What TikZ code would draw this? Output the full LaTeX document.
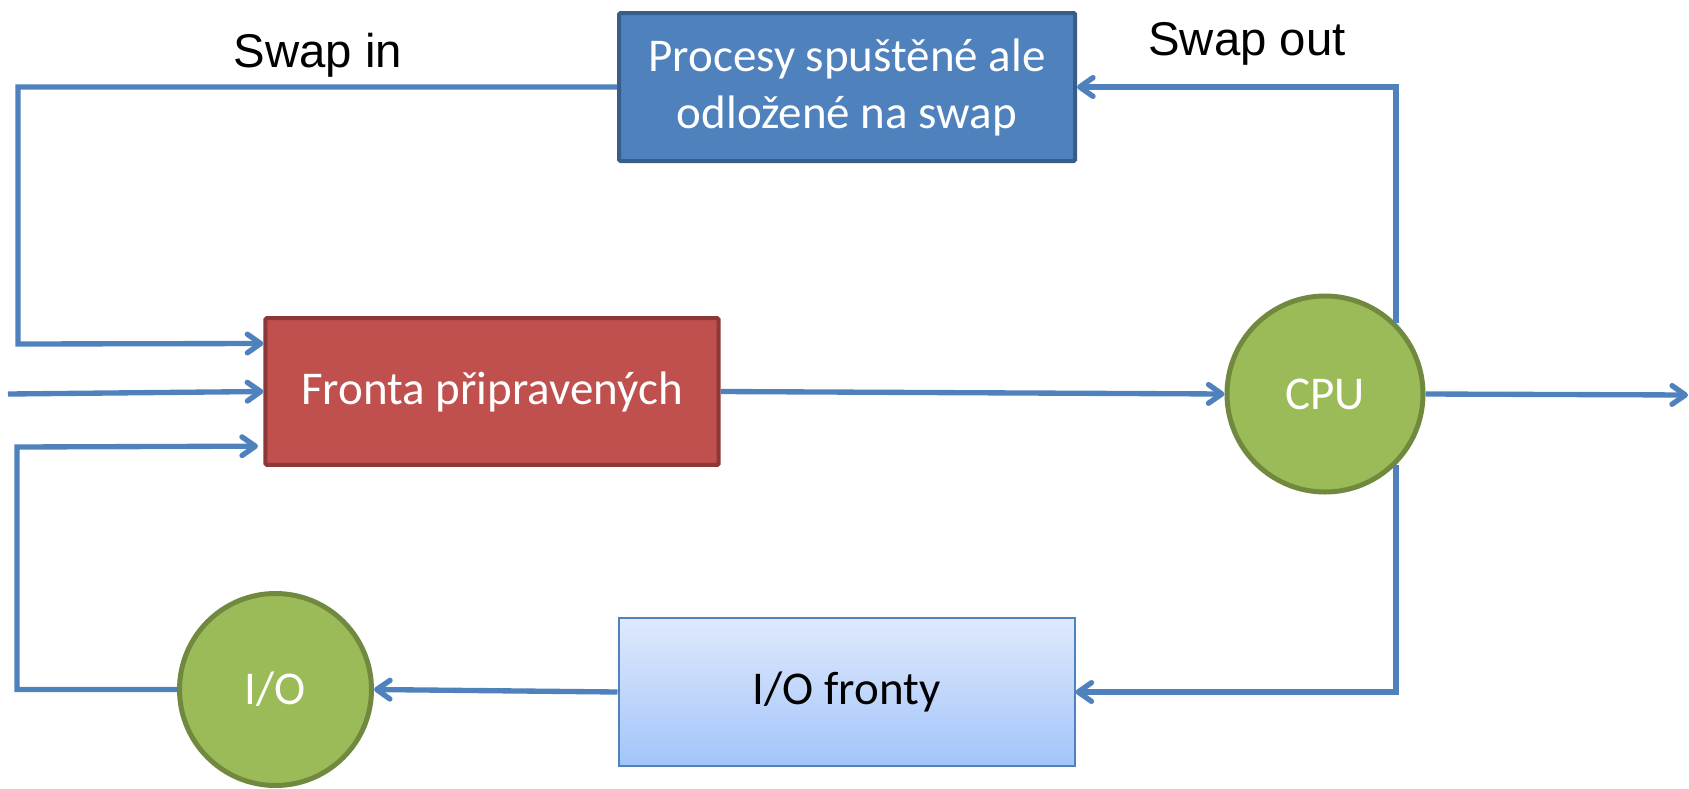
\documentclass[tikz,border=0pt]{standalone}
\usepackage{fontspec}
\setmainfont{Carlito}
\newfontfamily\labelfont{Liberation Sans}
\usetikzlibrary{arrows.meta}

\definecolor{lineblue}{RGB}{79,129,189}
\definecolor{swapborder}{RGB}{56,93,138}
\definecolor{readyfill}{RGB}{192,80,77}
\definecolor{readyborder}{RGB}{140,56,54}
\definecolor{cpufill}{RGB}{155,187,89}
\definecolor{cpuborder}{RGB}{113,137,63}
\definecolor{iotop}{RGB}{223,233,252}
\definecolor{iobottom}{RGB}{163,196,250}

\tikzset{every picture/.style={line width=0.75pt}}
\tikzset{
  flow/.style={draw=lineblue, line width=4pt, -{Straight Barb[length=10pt,width=14pt,round]}},
  boxtext/.style={font=\fontsize{35.25}{42.75}\selectfont, align=center, inner sep=0pt},
  swapbox/.style={boxtext, draw=swapborder, fill=lineblue, text=white, line width=3pt,
    rounded corners=1pt, minimum width=342pt, minimum height=111pt},
  readybox/.style={boxtext, draw=readyborder, fill=readyfill, text=white, line width=3pt,
    rounded corners=1pt, minimum width=340pt, minimum height=110pt},
  iobox/.style={boxtext, draw=lineblue, line width=1.5pt, top color=iotop, bottom color=iobottom,
    minimum width=342pt, minimum height=111pt},
  unit/.style={boxtext, circle, draw=cpuborder, fill=cpufill, text=white, line width=3.75pt},
  swaplabel/.style={font=\labelfont\fontsize{35.5}{40}\selectfont, anchor=base, inner sep=0pt}
}

\begin{document}
\begin{tikzpicture}[x=0.75pt,y=0.75pt,yscale=-1,xscale=1]
\useasboundingbox (0,0) rectangle (1689,789);

%Shapes: queues and units
\node (procs) [swapbox] at (847,87) {Procesy spuštěné ale\\odložené na swap};
\node (fronta) [readybox] at (492,391.5) {Fronta připravených};
\node (cpu) [unit, minimum size=147pt] at (1325,394) {CPU};
\node (iofr) [iobox] at (846.5,692) {I/O fronty};
\node (io) [unit, minimum size=144pt] at (275.5,689.5) {I/O};

%free ends and corners
\coordinate (inp) at (8,394);
\coordinate (out) at (1688,395);
\coordinate (upleft) at (18,344);
\coordinate (lowleft) at (17,447);

%Connectors
\draw [flow] (procs.west) -| (upleft) -- ([yshift=-36pt]fronta.west);
\draw [flow] (inp) -- (fronta.west);
\draw [flow] (io.west) -| (lowleft) -- ([xshift=-4pt,yshift=41pt]fronta.west);
\draw [flow] (fronta.east) -- (cpu.west);
\draw [flow] (cpu.east) -- (out);
\draw [flow] (cpu.45) |- (procs.east);
\draw [flow] (cpu.-45) |- (iofr.east);
\draw [flow] (iofr.west) -- (io.east);

% Text Node
\node (swapin) [swaplabel] at (318,67) {Swap in};
% Text Node
\node (swapout) [swaplabel] at (1247,55) {Swap out};

\end{tikzpicture}
\end{document}
